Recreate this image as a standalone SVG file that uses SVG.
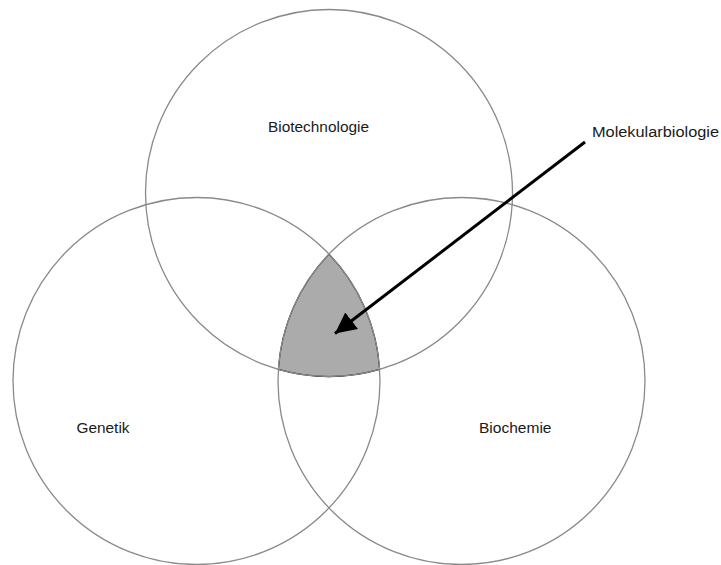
<svg xmlns="http://www.w3.org/2000/svg" width="721" height="565" viewBox="0 0 721 565">
<style>
.c{fill:none;stroke:#8a8a8a;stroke-width:1.3}
.t{font-family:"Liberation Sans",Arial,sans-serif;font-size:15.5px;fill:#1a1a1a}
</style>
<defs>
<marker id="ah" viewBox="0 0 10 10" refX="10" refY="5" markerWidth="7" markerHeight="7" markerUnits="strokeWidth" orient="auto">
<path d="M0,0 L10,5 L0,10 Z" fill="#000"/>
</marker>
</defs>
<rect width="721" height="565" fill="#fff"/>
<g id="overlap">
<path d="M329,254.05 A183.5,183.5 0 0 0 278.35,369.4 A183.5,183.5 0 0 0 379.65,369.4 A183.5,183.5 0 0 0 329,254.05 Z" fill="#ababab" stroke="#111" stroke-width="1.1"/>
</g>
<g id="biotechnologie">
<circle class="c" cx="329" cy="193" r="183.5"/>
<text class="t" x="268" y="132" textLength="101" lengthAdjust="spacingAndGlyphs">Biotechnologie</text>
</g>
<g id="genetik">
<circle class="c" cx="196.5" cy="381" r="183.5"/>
<text class="t" x="76.5" y="433" textLength="53" lengthAdjust="spacingAndGlyphs">Genetik</text>
</g>
<g id="biochemie">
<circle class="c" cx="461.5" cy="381" r="183.5"/>
<text class="t" x="479" y="433" textLength="72.5" lengthAdjust="spacingAndGlyphs">Biochemie</text>
</g>
<g id="molekularbiologie">
<text class="t" x="592" y="136.5" textLength="127" lengthAdjust="spacingAndGlyphs">Molekularbiologie</text>
</g>
<g id="connectors">
<line x1="585" y1="142" x2="335" y2="333.5" stroke="#000" stroke-width="3" marker-end="url(#ah)"/>
</g>
</svg>
